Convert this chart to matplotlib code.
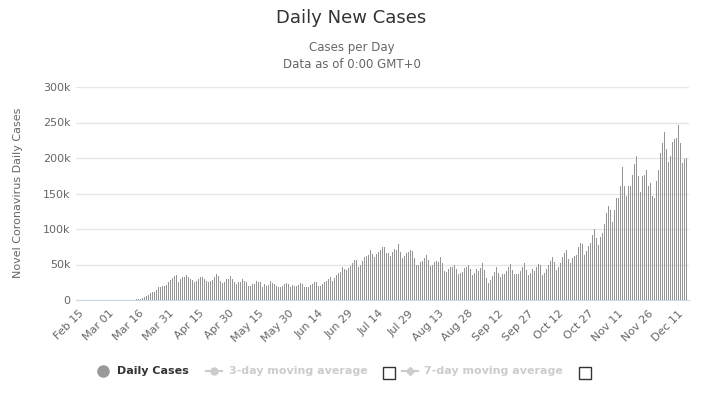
"""Daily new cases bar chart, Highcharts look."""

import matplotlib
matplotlib.use("Agg")
import matplotlib.pyplot as plt
import numpy as np
import pandas as pd
from matplotlib.lines import Line2D
from matplotlib.patches import Rectangle

START_DATE = "2020-02-15"

# daily new cases, thousands, one list per month
feb = [0, 0, 0, 0, 0, 0, 0, 0, 0, 0, 0, 0, 0, 0, 0]
mar = [0.01, 0.02, 0.02, 0.03, 0.07, 0.07, 0.1, 0.1, 0.15, 0.3, 0.4, 0.5, 0.6, 0.7, 0.8,
       1.0, 1.8, 2.9, 4.7, 5.6, 6.9, 9.4, 10.6, 11.1, 13.8, 17.8, 19.0, 19.5, 20.3, 21.8, 26.0]
apr = [28, 31, 33.5, 35, 26, 29, 33, 32, 35, 33, 30, 28, 26, 27, 30, 32, 32, 29, 27, 25,
       27, 28, 33, 37, 34, 27, 24, 25, 29, 30]
may = [34, 29, 26, 23, 25, 26, 29, 27, 26, 20, 20, 22, 22, 27, 25, 25, 19, 22, 20, 21,
       27, 24, 22, 20, 19, 18, 20, 22, 24, 23, 19]
jun = [21, 20, 20, 21, 24, 23, 18, 18, 18, 21, 23, 25, 26, 20, 20, 23, 25, 27, 30, 33,
       27, 31, 35, 38, 40, 47, 43, 42, 45, 48]
jul = [52, 57, 57, 46, 49, 55, 60, 62, 64, 71, 65, 61, 65, 67, 71, 74, 75, 66, 66, 62,
       68, 72, 71, 79, 68, 59, 62, 66, 67, 70, 69]
aug = [59, 50, 50, 53, 55, 59, 63, 56, 48, 49, 53, 55, 54, 61, 52, 41, 40, 44, 46, 47,
       49, 43, 36, 38, 40, 45, 47, 49, 44, 35, 38]
sep = [43, 41, 45, 52, 42, 31, 24, 28, 34, 40, 47, 38, 33, 37, 37, 41, 46, 51, 42, 36,
       36, 36, 41, 46, 52, 42, 35, 38, 44, 41]
oct_ = [47, 51, 49, 35, 38, 43, 49, 55, 61, 54, 42, 46, 52, 60, 66, 70, 58, 52, 59, 62,
        64, 74, 80, 79, 63, 69, 76, 80, 92, 100, 88]
nov = [77, 89, 94, 107, 122, 132, 127, 110, 127, 143, 143, 161, 187, 160, 147, 161, 160, 176, 192, 203,
       175, 152, 175, 176, 183, 160, 165, 146, 143, 167]
dec = [183, 207, 221, 237, 213, 195, 203, 222, 227, 228, 246, 221, 193, 198, 200]

cases = np.array(feb + mar + apr + may + jun + jul + aug + sep + oct_ + nov + dec) * 1000
dates = pd.date_range(START_DATE, periods=len(cases))

y_ticks = [0, 50000, 100000, 150000, 200000, 250000, 300000]
y_labels = ["0", "50k", "100k", "150k", "200k", "250k", "300k"]

W, H = 703, 399
GREY_TEXT = "#666666"
BAR = "#959595"
FADED = "#cccccc"

fig = plt.figure(figsize=(W / 100, H / 100), dpi=100)
fig.patch.set_facecolor("white")
ax = fig.add_axes([76 / W, 1 - 300 / H, (689 - 76) / W, (300 - 87) / H])

x = np.arange(len(cases))
ax.bar(x, cases, width=0.72, color=BAR, linewidth=0, zorder=3)

ax.set_ylim(0, 300000)
ax.set_xlim(-1.25, 305.3)
ax.set_yticks(y_ticks, y_labels)
ax.set_xticks(x[::15], [d.strftime("%b %d") for d in dates[::15]])
for lbl in ax.get_xticklabels():
    lbl.set_rotation(45)
    lbl.set_ha("right")
    lbl.set_rotation_mode("anchor")
ax.tick_params(axis="both", length=0, colors=GREY_TEXT, labelsize=8)
ax.tick_params(axis="x", pad=6)
ax.tick_params(axis="y", pad=4)
ax.grid(axis="y", color="#e6e6e6", linewidth=1, zorder=0)
for side in ("top", "right", "left"):
    ax.spines[side].set_visible(False)
ax.spines["bottom"].set_color("#ccd6eb")
ax.spines["bottom"].set_zorder(4)

fig.text(18 / W, 1 - 193 / H, "Novel Coronavirus Daily Cases", rotation=90,
         ha="center", va="center", color=GREY_TEXT, fontsize=8)

fig.text(0.5, 1 - 18 / H, "Daily New Cases", ha="center", va="center",
         color="#333333", fontsize=13)
fig.text(0.5, 1 - 48 / H, "Cases per Day", ha="center", va="center",
         color=GREY_TEXT, fontsize=8.5)
fig.text(0.5, 1 - 64 / H, "Data as of 0:00 GMT+0", ha="center", va="center",
         color=GREY_TEXT, fontsize=8.5)

# legend drawn by hand
ly = 1 - 371 / H
fig.add_artist(Line2D([103 / W], [ly], marker="o", markersize=8,
                      color="#999999", linestyle="none"))
fig.text(117 / W, ly, "Daily Cases", ha="left", va="center",
         color="#333333", fontsize=8, fontweight="bold")

fig.add_artist(Line2D([206 / W, 222 / W], [ly, ly], color=FADED, linewidth=1.5))
fig.add_artist(Line2D([214 / W], [ly], marker="o", markersize=5,
                      color=FADED, linestyle="none"))
fig.text(229 / W, ly, "3-day moving average", ha="left", va="center",
         color=FADED, fontsize=8, fontweight="bold")

fig.add_artist(Line2D([402 / W, 418 / W], [ly, ly], color=FADED, linewidth=1.5))
fig.add_artist(Line2D([410 / W], [ly], marker="D", markersize=4,
                      color=FADED, linestyle="none"))
fig.text(424 / W, ly, "7-day moving average", ha="left", va="center",
         color=FADED, fontsize=8, fontweight="bold")

for bx in (383, 579):
    fig.add_artist(Rectangle((bx / W, 1 - 379 / H), 12 / W, 12 / H,
                             transform=fig.transFigure, facecolor="white",
                             edgecolor="#333333", linewidth=1))

fig.savefig("out.png", dpi=100, facecolor="white")
